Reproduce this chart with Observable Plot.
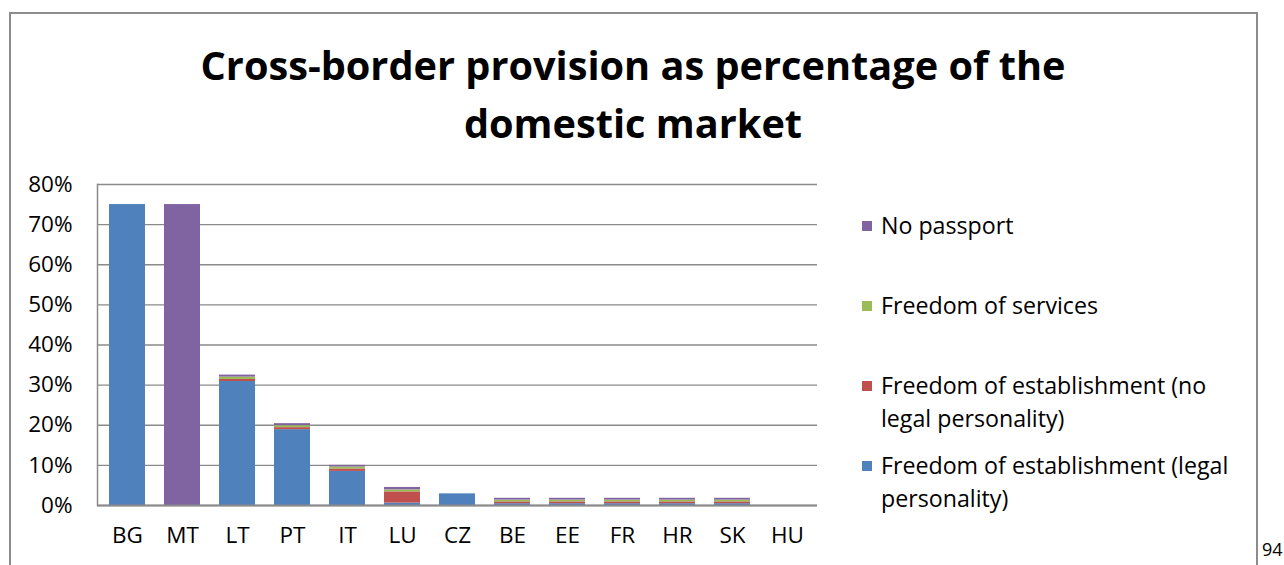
<!DOCTYPE html>
<html>
<head>
<meta charset="utf-8">
<script src="https://cdn.jsdelivr.net/npm/d3@7"></script>
<script src="https://cdn.jsdelivr.net/npm/@observablehq/plot@0.6"></script>
<style>
  html, body { margin: 0; padding: 0; background: #fff; }
  #wrap { position: relative; width: 1284px; height: 565px; overflow: hidden; font-family: "Open Sans", Lato, sans-serif; color: #000; }
  #border { position: absolute; left: 9px; top: 12px; width: 1249px; height: 600px; border: 2px solid #8c8c8c; box-sizing: border-box; }
  #title { position: absolute; left: 0; width: 1266px; top: 36px; text-align: center; font-weight: bold; font-size: 39.7px; line-height: 58px; }
  #chart { position: absolute; left: 0; top: 0; }
  #legend { position: absolute; left: 862px; top: 0; font-size: 23.2px; line-height: 33px; }
  .item { position: absolute; left: 0; white-space: nowrap; }
  .sw { position: absolute; left: 0; top: 12px; width: 10px; height: 10px; }
  .lab { position: absolute; left: 19px; top: 0; }
  #page { position: absolute; left: 1262px; top: 537px; font-size: 18px; }
</style>
</head>
<body>
<div id="wrap">
  <div id="border"></div>
  <div id="chart"></div>
  <div id="title">Cross-border provision as percentage of the<br>domestic market</div>
  <div id="legend"></div>
  <div id="page">94</div>
</div>
<script>
const categories = ["BG","MT","LT","PT","IT","LU","CZ","BE","EE","FR","HR","SK","HU"];
const seriesNames = [
  "Freedom of establishment (legal personality)",
  "Freedom of establishment (no legal personality)",
  "Freedom of services",
  "No passport"
];
const seriesColors = ["#4F81BD", "#C0504D", "#9BBB59", "#8064A2"];
// values in percent
const legalPersonality   = [75, 0, 30.9, 18.9, 8.5, 0.6, 2.9, 0.45, 0.45, 0.45, 0.45, 0.45, 0];
const noLegalPersonality = [0,  0, 0.5,  0.5,  0.6, 2.8, 0,   0.45, 0.45, 0.45, 0.45, 0.45, 0];
const freedomServices    = [0,  0, 0.6,  0.5,  0.5, 0.5, 0,   0.45, 0.45, 0.45, 0.45, 0.45, 0];
const noPassport         = [0, 75, 0.5,  0.5,  0.4, 0.6, 0,   0.45, 0.45, 0.45, 0.45, 0.45, 0];
const yTicks = [0, 10, 20, 30, 40, 50, 60, 70, 80];
const legendOrder = [
  {name: "No passport", lines: ["No passport"], color: "#8064A2", top: 209},
  {name: "Freedom of services", lines: ["Freedom of services"], color: "#9BBB59", top: 289},
  {name: "Freedom of establishment (no legal personality)", lines: ["Freedom of establishment (no", "legal personality)"], color: "#C0504D", top: 369},
  {name: "Freedom of establishment (legal personality)", lines: ["Freedom of establishment (legal", "personality)"], color: "#4F81BD", top: 449}
];

const allSeries = [legalPersonality, noLegalPersonality, freedomServices, noPassport];
const data = [];
categories.forEach((c, i) => {
  allSeries.forEach((s, k) => {
    data.push({category: c, series: seriesNames[k], value: s[i] / 100});
  });
});

const plot = Plot.plot({
  width: 1284,
  height: 565,
  marginLeft: 97,
  marginRight: 467,
  marginTop: 184,
  marginBottom: 60,
  style: {fontFamily: "'Open Sans', Lato, sans-serif", fontSize: "22.5px", color: "#000", background: "transparent"},
  x: {domain: categories, paddingInner: 0.35, paddingOuter: 0.175, label: null, tickSize: 0, tickPadding: 22},
  y: {domain: [0, 0.8], ticks: yTicks.map(t => t / 100), tickFormat: d3.format(".0%"), label: null, tickSize: 0, tickPadding: 25},
  color: {domain: seriesNames, range: seriesColors},
  marks: [
    Plot.ruleY(yTicks.map(t => t / 100), {stroke: "#8a8a8a", strokeWidth: 1.3}),
    Plot.frame({anchor: "left", stroke: "#8a8a8a", strokeWidth: 1.5}),
    Plot.barY(data, Plot.stackY({x: "category", y: "value", fill: "series", order: seriesNames})),
    Plot.ruleY([0], {stroke: "#8a8a8a", strokeWidth: 2})
  ]
});
document.getElementById("chart").appendChild(plot);

const legend = document.getElementById("legend");
legendOrder.forEach(item => {
  const div = document.createElement("div");
  div.className = "item";
  div.style.top = item.top + "px";
  const sw = document.createElement("div");
  sw.className = "sw";
  sw.style.background = item.color;
  const lab = document.createElement("div");
  lab.className = "lab";
  lab.innerHTML = item.lines.join("<br>");
  div.appendChild(sw);
  div.appendChild(lab);
  legend.appendChild(div);
});
</script>
</body>
</html>
